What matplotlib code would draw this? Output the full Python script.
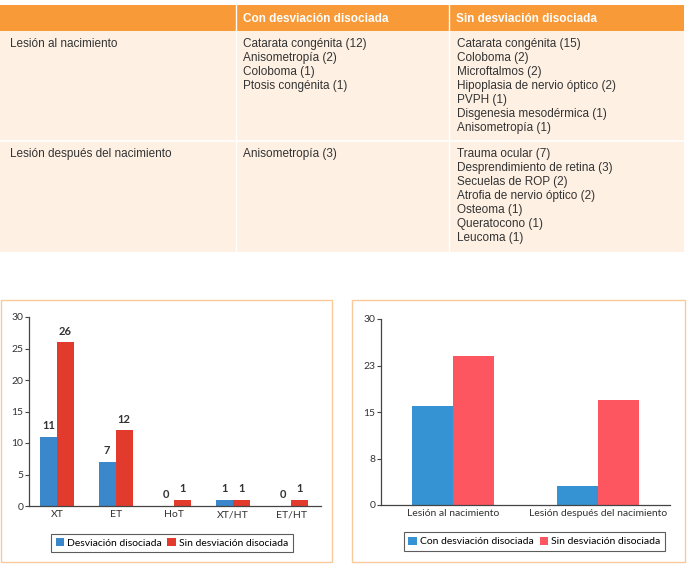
import matplotlib.pyplot as plt
from matplotlib.patches import Rectangle
import numpy as np

# table content
header = ["", "Con desviación disociada", "Sin desviación disociada"]
row_labels = ["Lesión al nacimiento", "Lesión después del nacimiento"]
con_dd = [
    ["Catarata congénita (12)", "Anisometropía (2)", "Coloboma (1)", "Ptosis congénita (1)"],
    ["Anisometropía (3)"],
]
sin_dd = [
    ["Catarata congénita (15)", "Coloboma (2)", "Microftalmos (2)",
     "Hipoplasia de nervio óptico (2)", "PVPH (1)", "Disgenesia mesodérmica (1)",
     "Anisometropía (1)"],
    ["Trauma ocular (7)", "Desprendimiento de retina (3)", "Secuelas de ROP (2)",
     "Atrofia de nervio óptico (2)", "Osteoma (1)", "Queratocono (1)", "Leucoma (1)"],
]

# left chart
dev_types = ["XT", "ET", "HoT", "XT/HT", "ET/HT"]
desv_dis = [11, 7, 0, 1, 0]
sin_desv_dis = [26, 12, 1, 1, 1]

# right chart
lesion = ["Lesión al nacimiento", "Lesión después del nacimiento"]
con_counts = [16, 3]
sin_counts = [24, 17]

W, H = 690, 571
fig = plt.figure(figsize=(W / 100, H / 100), dpi=100)

# ---- table drawn in a pixel-space axes ----
bg = fig.add_axes([0, 0, 1, 1])
bg.set_xlim(0, W)
bg.set_ylim(H, 0)
bg.axis("off")

orange = "#F89A38"
cream = "#FEF1E4"
col_x = [0, 236, 449, 684]
head_y = (5, 31)
row_y = [31, 141, 252]
tfont = ["Liberation Sans", "DejaVu Sans"]

bg.add_patch(Rectangle((col_x[0], head_y[0]), col_x[-1] - col_x[0], head_y[1] - head_y[0],
                       facecolor=orange, edgecolor="none"))
bg.add_patch(Rectangle((col_x[0], row_y[0]), col_x[-1] - col_x[0], row_y[-1] - row_y[0],
                       facecolor=cream, edgecolor="none"))
for cx in col_x[1:-1]:
    bg.plot([cx, cx], [head_y[0], row_y[-1]], color="white", lw=1)
bg.plot([col_x[0], col_x[-1]], [row_y[1], row_y[1]], color="white", lw=1.2)

for j, h in enumerate(header):
    bg.text(col_x[j] + 7, (head_y[0] + head_y[1]) / 2 + 0.5, h, color="white",
            fontsize=8.5, fontweight="bold", va="center", family=tfont)

for i, lab in enumerate(row_labels):
    y0 = row_y[i] + 13
    bg.text(col_x[0] + 10, y0, lab, fontsize=8.5, va="center", color="#333333", family=tfont)
    for k, line in enumerate(con_dd[i]):
        bg.text(col_x[1] + 7, y0 + 14 * k, line, fontsize=8.5, va="center",
                color="#333333", family=tfont)
    for k, line in enumerate(sin_dd[i]):
        bg.text(col_x[2] + 8, y0 + 14 * k, line, fontsize=8.5, va="center",
                color="#333333", family=tfont)

# panel frames
box_col = "#F9C99A"
bg.add_patch(Rectangle((1, 300), 331, 262, facecolor="none", edgecolor=box_col, lw=1))
bg.add_patch(Rectangle((352, 300), 333, 262, facecolor="none", edgecolor=box_col, lw=1))

cfont = ["Lato", "DejaVu Sans"]
axis_col = "#444444"


def style_axes(ax):
    for s in ["top", "right"]:
        ax.spines[s].set_visible(False)
    for s in ["left", "bottom"]:
        ax.spines[s].set_color(axis_col)
        ax.spines[s].set_linewidth(0.9)
    ax.tick_params(axis="y", length=3, width=0.8, color=axis_col, labelsize=7.5,
                   labelcolor="#333333", pad=1)
    ax.tick_params(axis="x", length=0, labelsize=7.5, labelcolor="#333333", pad=3)
    for t in ax.get_xticklabels() + ax.get_yticklabels():
        t.set_family(cfont)


# ---- left chart ----
ax1 = fig.add_axes([29 / W, 1 - 506 / H, (321 - 29) / W, (506 - 317) / H])
x = np.arange(len(dev_types))
bw = 0.29
blue1, red1 = "#3A87CB", "#E23B2E"
b1 = ax1.bar(x - bw / 2, desv_dis, bw, color=blue1, label="Desviación disociada")
b2 = ax1.bar(x + bw / 2, sin_desv_dis, bw, color=red1, label="Sin desviación disociada")
for bars, vals in [(b1, desv_dis), (b2, sin_desv_dis)]:
    for r, v in zip(bars, vals):
        ax1.text(r.get_x() + r.get_width() / 2, v + 0.9, str(v), ha="center", va="bottom",
                 fontsize=8, fontweight="bold", color="#333333", family=cfont)
ax1.set_xlim(-0.48, len(dev_types) - 0.49)
ax1.set_ylim(0, 30)
ax1.set_yticks([0, 5, 10, 15, 20, 25, 30])
ax1.set_xticks(x)
ax1.set_xticklabels(dev_types)
style_axes(ax1)
leg1 = ax1.legend(loc="center", bbox_to_anchor=(172 / W, 1 - 543 / H),
                  bbox_transform=fig.transFigure, ncol=2, frameon=True,
                  fancybox=False, handlelength=0.8, handleheight=0.8, handletextpad=0.3,
                  columnspacing=0.5, borderpad=0.45, prop={"family": cfont, "size": 7.5})
leg1.get_frame().set_edgecolor("#333333")
leg1.get_frame().set_linewidth(0.8)

# ---- right chart ----
ax2 = fig.add_axes([381 / W, 1 - 505 / H, (670 - 381) / W, (505 - 319) / H])
x2 = np.arange(len(lesion))
bw2 = 0.283
blue2, red2 = "#3592D3", "#FD5660"
ax2.bar(x2 - bw2 / 2, con_counts, bw2, color=blue2, label="Con desviación disociada")
ax2.bar(x2 + bw2 / 2, sin_counts, bw2, color=red2, label="Sin desviación disociada")
ax2.set_xlim(-0.5, 1.5)
ax2.set_ylim(0, 30)
ax2.set_yticks([0, 7.5, 15, 22.5, 30])
ax2.set_yticklabels(["0", "8", "15", "23", "30"])
ax2.set_xticks(x2)
ax2.set_xticklabels(lesion)
style_axes(ax2)
leg2 = ax2.legend(loc="center", bbox_to_anchor=(534.5 / W, 1 - 541.5 / H),
                  bbox_transform=fig.transFigure, ncol=2, frameon=True,
                  fancybox=False, handlelength=0.8, handleheight=0.8, handletextpad=0.3,
                  columnspacing=0.6, borderpad=0.45, prop={"family": cfont, "size": 7.5})
leg2.get_frame().set_edgecolor("#333333")
leg2.get_frame().set_linewidth(0.8)

fig.savefig("out.png", dpi=100)
